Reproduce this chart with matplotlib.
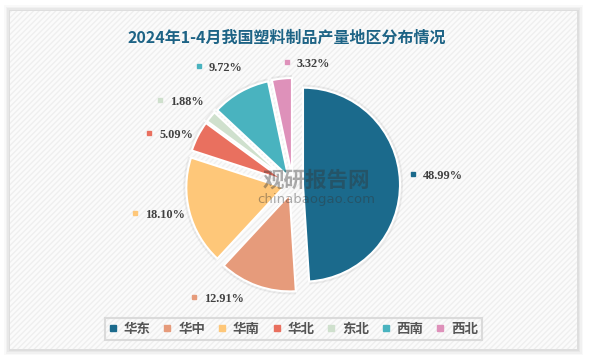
import matplotlib
matplotlib.use('Agg')
import matplotlib.pyplot as plt
from matplotlib.patches import Rectangle
from matplotlib.lines import Line2D

plt.rcParams['font.family'] = ['Noto Sans CJK SC', 'DejaVu Sans']
plt.rcParams['hatch.linewidth'] = 1.0

# data
regions = ['华东', '华中', '华南', '华北', '东北', '西南', '西北']
shares = [48.99, 12.91, 18.10, 5.09, 1.88, 9.72, 3.32]
pct_labels = ['48.99%', '12.91%', '18.10%', '5.09%', '1.88%', '9.72%', '3.32%']
colors = ['#1b6a8c', '#e69b7b', '#fec779', '#e9705f', '#cfe0cd', '#49b3bf', '#de91ba']

# layout (pixel positions of the label markers, top-left origin)
label_pos = [(413, 174), (194, 297), (135, 213), (149, 133), (160, 100), (199, 66), (287, 62)]

W, H = 589, 358
fig = plt.figure(figsize=(W / 100, H / 100), dpi=100, facecolor='white')
ax = fig.add_axes([0, 0, 1, 1])

def py(y):
    return H - y

# card shadow + striped card
for i, a in enumerate([0.025, 0.03, 0.035, 0.04]):
    g = 6 - i * 1.5
    ax.add_patch(Rectangle((10 - g, py(349) - g), 567 + 2 * g, 338 + 2 * g,
                           facecolor='#000000', alpha=a, lw=0, zorder=0))
ax.add_patch(Rectangle((10, py(349)), 567, 338, facecolor='#fbfbfb',
                       edgecolor='#efefef', hatch='//////', lw=0, zorder=1))

# pie
cx, cy, r = 293, py(185), 97
ax.pie(shares, radius=r + 3, center=(cx, cy), colors=['#000000'] * 7,
       startangle=90, counterclock=False, explode=[10] * 7,
       wedgeprops=dict(alpha=0.06, lw=0, zorder=2))
wedges, _ = ax.pie(shares, radius=r, center=(cx, cy), colors=colors,
                   startangle=90, counterclock=False, explode=[10] * 7,
                   wedgeprops=dict(edgecolor='white', linewidth=1.5, zorder=3))

# watermark
ax.text(316, py(180), '观研报告网', fontsize=15.5, fontweight='bold',
        color='#333333', alpha=0.4, ha='center', va='center', zorder=4)
ax.text(316, py(199), 'chinabaogao.com', fontsize=9.5, family='DejaVu Sans',
        color='#333333', alpha=0.4, ha='center', va='center', zorder=4)

# percentage labels
for (x, y), txt, c in zip(label_pos, pct_labels, colors):
    ax.plot(x, py(y), marker='s', ms=3, color=c, zorder=5)
    ax.text(x + 10, py(y + 2), txt, fontsize=8.8, fontweight='bold',
            family='Liberation Serif', color='#404040', ha='left', va='center', zorder=5)

# title
ax.text(287, py(38), '2024年1-4月我国塑料制品产量地区分布情况', fontsize=11.5,
        fontweight='bold', color='#1d6385', ha='center', va='center', zorder=5)

ax.set_xlim(0, W)
ax.set_ylim(0, H)
ax.set_aspect('auto')
ax.axis('off')

# legend
handles = [Line2D([], [], marker='s', ls='', ms=5, color=c) for c in colors]
leg = fig.legend(handles, regions, loc='center', bbox_to_anchor=(293.5 / W, 1 - 329 / H),
                 ncol=7, frameon=True, fancybox=False, handlelength=0.6,
                 handletextpad=0.5, columnspacing=0.95, borderpad=0.3,
                 prop={'size': 9.7, 'weight': 'bold'})
leg.get_frame().set_edgecolor('#d4d4d4')
leg.get_frame().set_linewidth(1.5)
leg.get_frame().set_facecolor('none')
for t in leg.get_texts():
    t.set_color('#555555')

fig.savefig('out.png', dpi=100, facecolor='white')
